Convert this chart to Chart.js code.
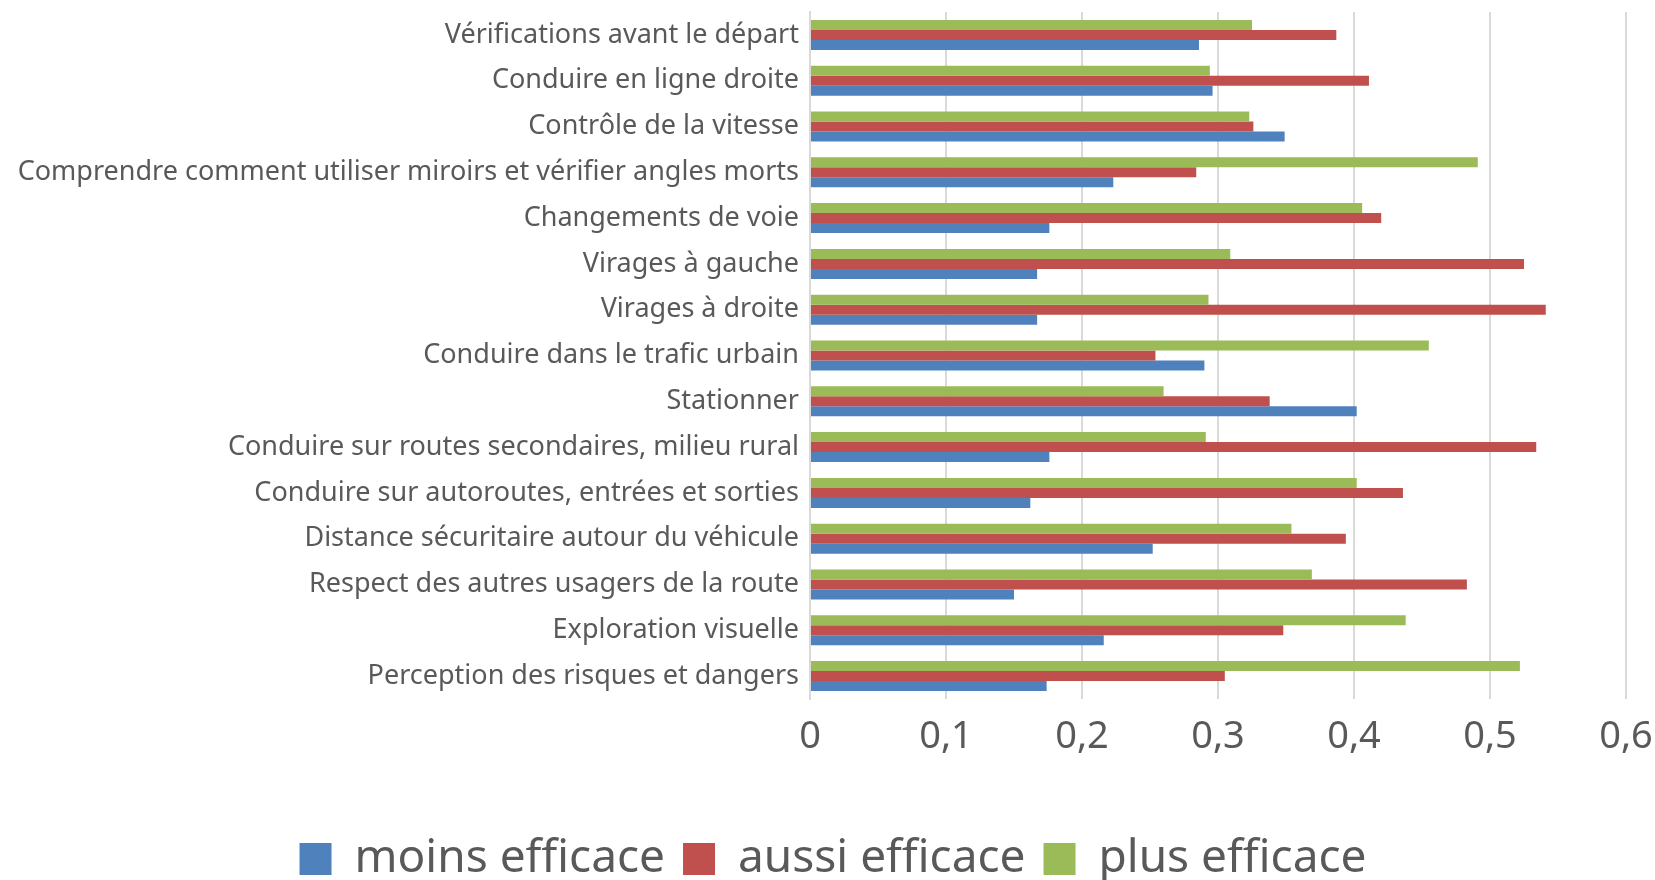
<!DOCTYPE html>
<html>
<head>
<meta charset="utf-8">
<script src="https://cdn.jsdelivr.net/npm/chart.js@4"></script>
<style>
  html, body { margin: 0; padding: 0; background: #fff; }
  #wrap { width: 1655px; height: 880px; }
</style>
</head>
<body>
<div id="wrap"><canvas id="chart" width="1655" height="880"></canvas></div>
<script>
var categories = [
    "Vérifications avant le départ",
    "Conduire en ligne droite",
    "Contrôle de la vitesse",
    "Comprendre comment utiliser miroirs et vérifier angles morts",
    "Changements de voie",
    "Virages à gauche",
    "Virages à droite",
    "Conduire dans le trafic urbain",
    "Stationner",
    "Conduire sur routes secondaires, milieu rural",
    "Conduire sur autoroutes, entrées et sorties",
    "Distance sécuritaire autour du véhicule",
    "Respect des autres usagers de la route",
    "Exploration visuelle",
    "Perception des risques et dangers"
];

var moinsEfficace = [0.286, 0.296, 0.349, 0.223, 0.176, 0.167, 0.167, 0.290, 0.402, 0.176, 0.162, 0.252, 0.150, 0.216, 0.174];
var aussiEfficace = [0.387, 0.411, 0.326, 0.284, 0.420, 0.525, 0.541, 0.254, 0.338, 0.534, 0.436, 0.394, 0.483, 0.348, 0.305];
var plusEfficace  = [0.325, 0.294, 0.323, 0.491, 0.406, 0.309, 0.293, 0.455, 0.260, 0.291, 0.402, 0.354, 0.369, 0.438, 0.522];

var xTicks = ["0", "0,1", "0,2", "0,3", "0,4", "0,5", "0,6"];

var textColor = '#595959';
var font = 'Noto Sans';

function bars(label, data, color) {
    return {
        label: label,
        data: data,
        backgroundColor: color,
        borderWidth: 0,
        barPercentage: 1,
        categoryPercentage: 0.656
    };
}

// nudge the legend a bit right, like the Excel original
var shiftLegend = {
    id: 'shiftLegend',
    afterLayout: function(chart) {
        if (chart.legend) chart.legend.left = 40;
    }
};

const ctx = document.getElementById('chart').getContext('2d');
const chart = new Chart(ctx, {
    type: 'bar',
    data: {
        labels: categories,
        // top bar of each group first (Excel draws series bottom-up)
        datasets: [
            bars('plus efficace', plusEfficace, '#9BBB59'),
            bars('aussi efficace', aussiEfficace, '#C0504D'),
            bars('moins efficace', moinsEfficace, '#4F81BD')
        ]
    },
    plugins: [shiftLegend],
    options: {
        indexAxis: 'y',
        responsive: false,
        animation: false,
        layout: {
            padding: { top: 12, right: 29, left: 0, bottom: -12 }
        },
        plugins: {
            tooltip: { enabled: false },
            legend: {
                position: 'bottom',
                reverse: true,
                labels: {
                    color: textColor,
                    font: { family: font, size: 46 },
                    boxWidth: 32,
                    boxHeight: 32,
                    padding: 18
                }
            }
        },
        scales: {
            x: {
                min: 0,
                max: 0.6,
                ticks: {
                    stepSize: 0.1,
                    color: textColor,
                    font: { family: font, size: 38 },
                    padding: 15,
                    callback: function(value, index) {
                        return xTicks[index];
                    }
                },
                grid: {
                    color: '#d9d9d9',
                    lineWidth: 2,
                    drawTicks: false
                },
                border: { display: false },
                afterFit: function(scale) {
                    scale.height = 119;
                    scale.paddingLeft = 0;
                    scale.paddingRight = 0;
                }
            },
            y: {
                ticks: {
                    color: textColor,
                    font: { family: font, size: 27 },
                    padding: 11,
                    autoSkip: false
                },
                grid: { display: false, drawTicks: false },
                border: { display: true, color: '#d9d9d9', width: 2 },
                afterFit: function(scale) {
                    scale.width = 810;
                    scale.paddingTop = 0;
                    scale.paddingBottom = 0;
                }
            }
        }
    }
});
</script>
</body>
</html>
